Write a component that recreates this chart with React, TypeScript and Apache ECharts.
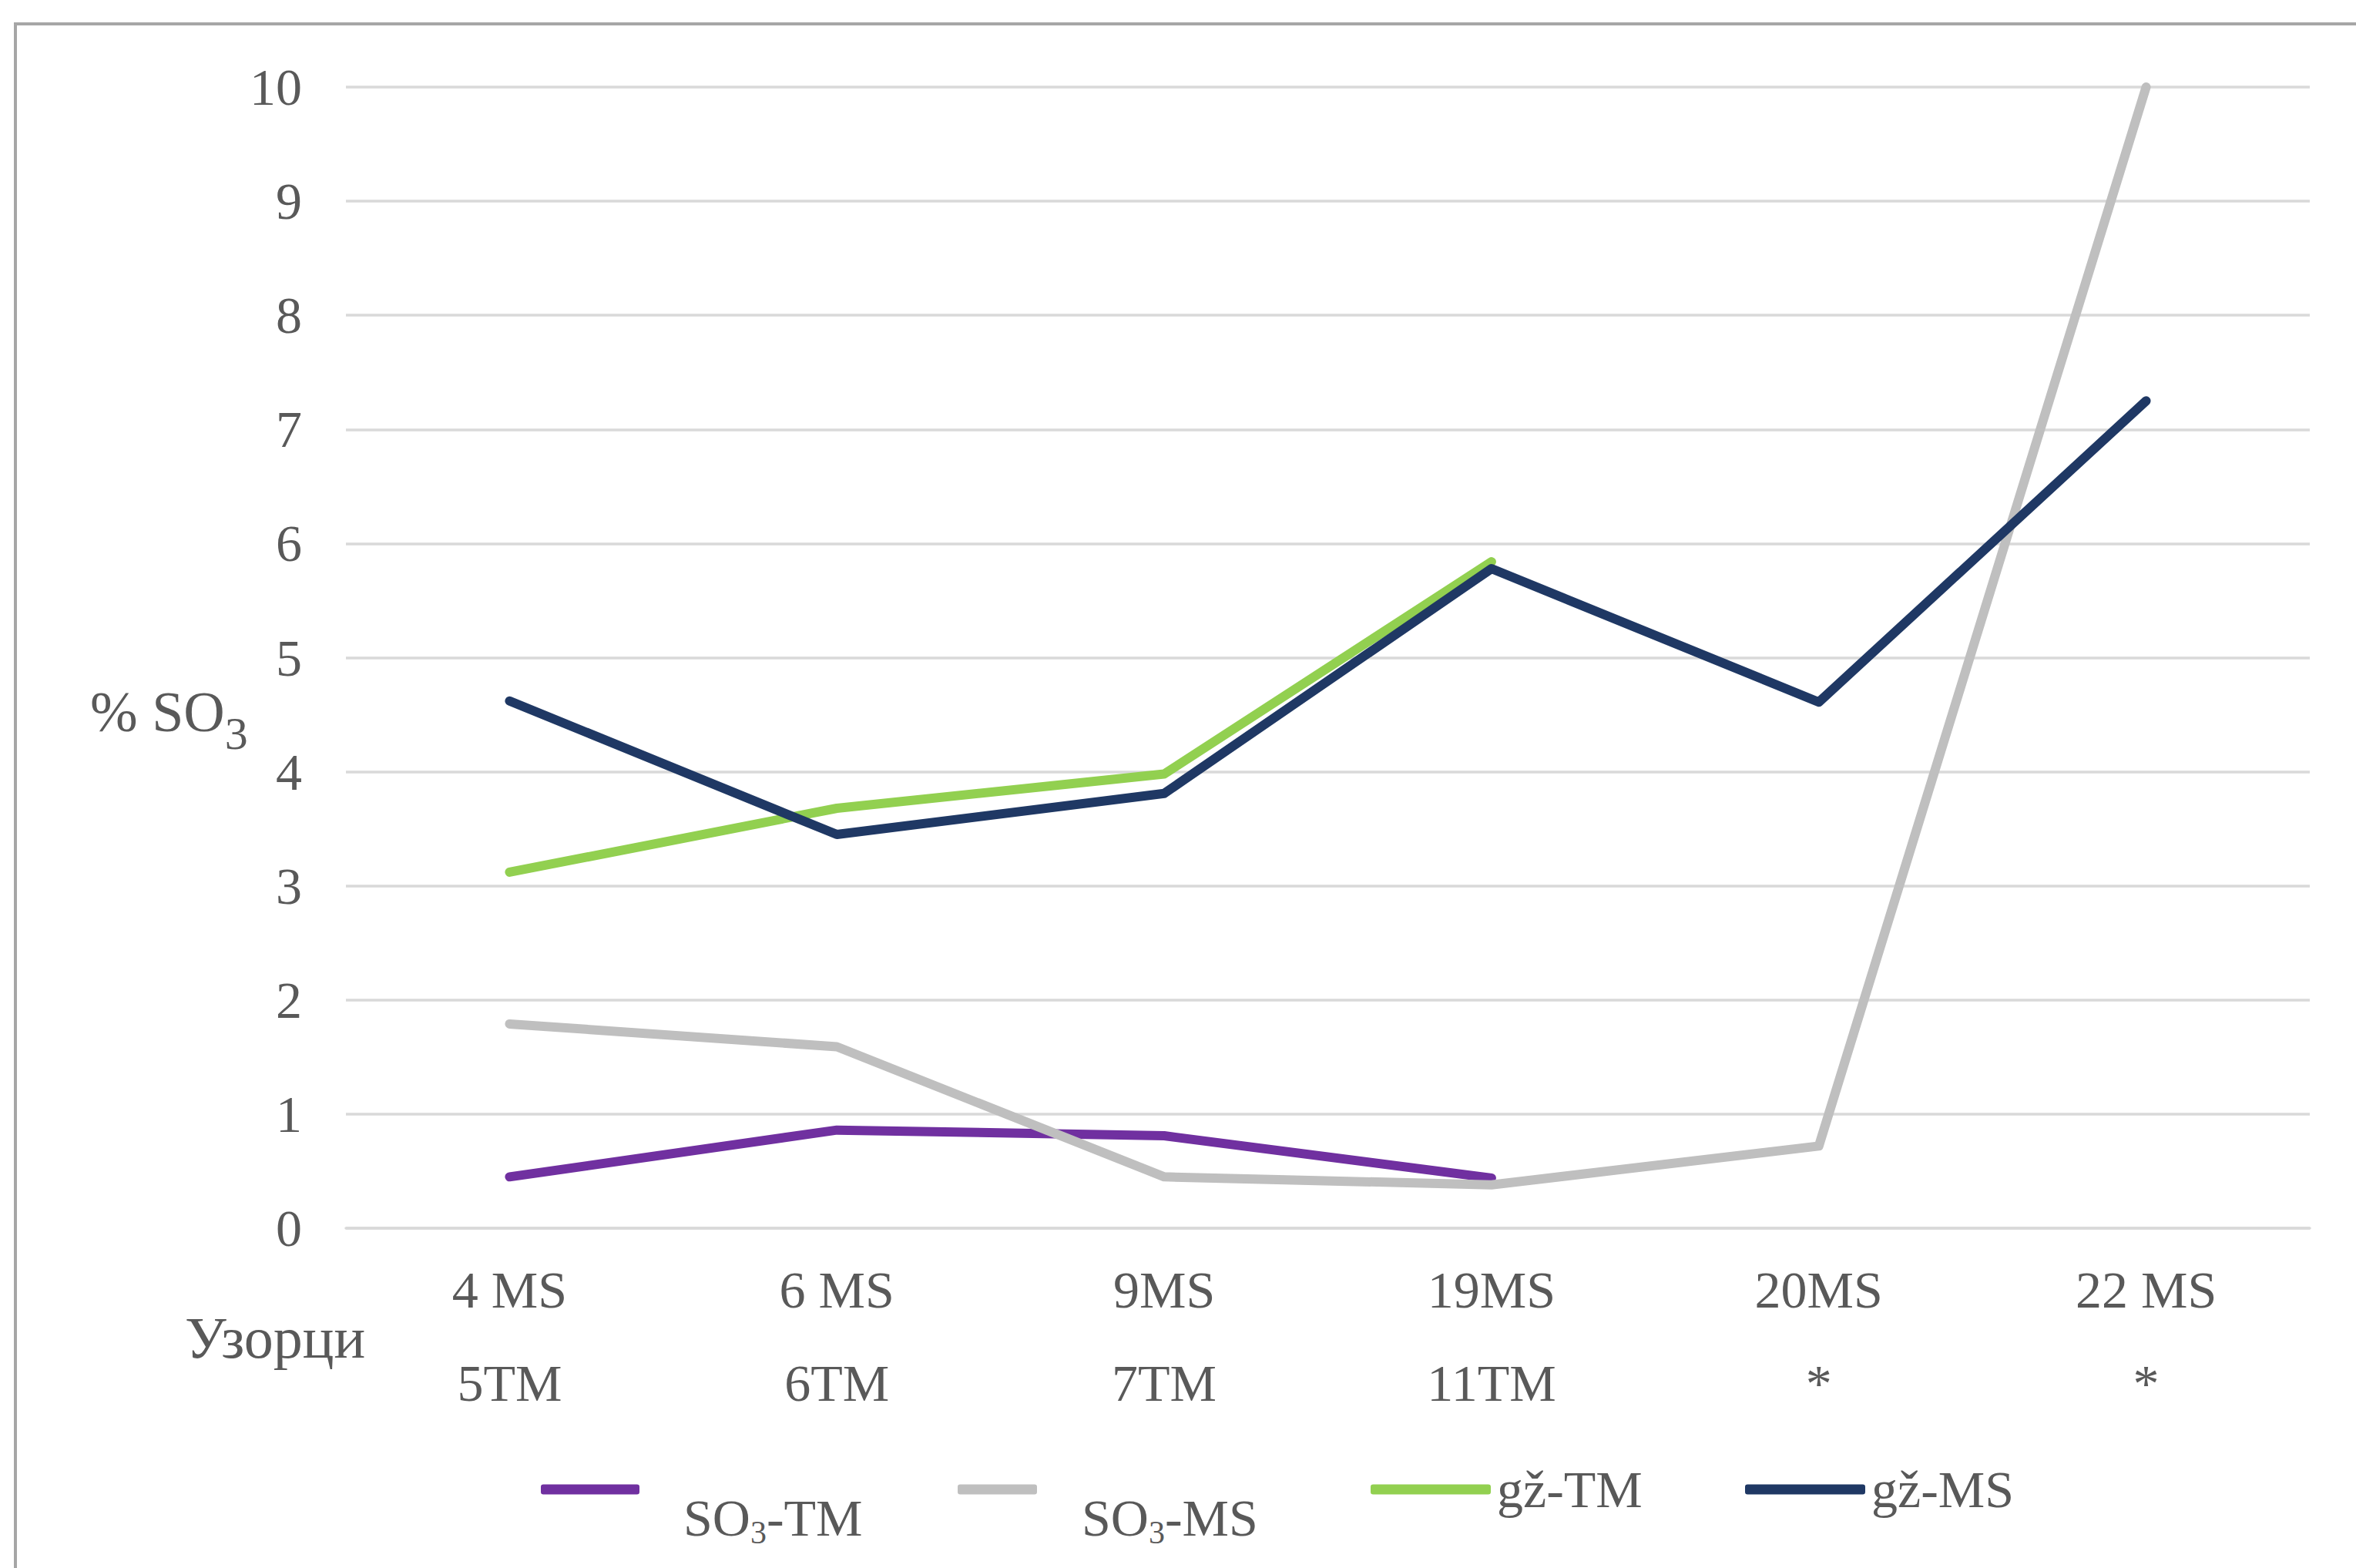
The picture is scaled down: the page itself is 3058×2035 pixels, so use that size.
import React, { useEffect, useRef } from 'react';
import * as echarts from 'echarts';

const categoriesMS = ['4 MS', '6 MS', '9MS', '19MS', '20MS', '22 MS'];
const categoriesTM = ['5TM', '6TM', '7TM', '11TM', '*', '*'];
const seriesNames = ['SO3-TM', 'SO3-MS', 'gž-TM', 'gž-MS'];
const so3TM = [0.45, 0.86, 0.81, 0.44];
const so3MS = [1.79, 1.59, 0.45, 0.38, 0.72, 10.0];
const gzTM = [3.12, 3.68, 3.98, 5.84];
const gzMS = [4.62, 3.45, 3.81, 5.78, 4.61, 7.25];
const yMin = 0;
const yMax = 10;
const yInterval = 1;
const colors = ['#7030A0', '#BFBFBF', '#92D050', '#1F3864'];
const seriesData = [so3TM, so3MS, gzTM, gzMS];

const FONT = '"Liberation Serif", "Times New Roman", serif';
const TEXT = '#595959';

const legendLayout = [
  { left: 702, top: 1856, w: 128, padLeft: 52, padTop: 74 },
  { left: 1243, top: 1856, w: 103, padLeft: 53, padTop: 74 },
  { left: 1779, top: 1893, w: 156, padLeft: 3, padTop: 0 },
  { left: 2265, top: 1893, w: 156, padLeft: 3, padTop: 0 },
];

export default function App() {
  const ref = useRef<HTMLDivElement>(null);
  useEffect(() => {
    document.body.style.margin = '0';
    if (!ref.current) return;
    const chart = echarts.init(ref.current, undefined, { renderer: 'svg' });
    const categories = categoriesMS.map((m, i) => m + '\n' + categoriesTM[i]);
    const option: any = {
      animation: false,
      backgroundColor: '#ffffff',
      textStyle: { fontFamily: FONT },
      grid: { left: 449, right: 60, top: 113, bottom: 441, containLabel: false },
      xAxis: {
        type: 'category',
        data: categories,
        boundaryGap: true,
        axisLine: { show: true, lineStyle: { color: '#D9D9D9', width: 3.5 } },
        axisTick: { show: false },
        axisLabel: {
          margin: 19,
          fontSize: 68,
          lineHeight: 121,
          color: TEXT,
          fontFamily: FONT,
          interval: 0,
        },
        splitLine: { show: false },
      },
      yAxis: {
        type: 'value',
        min: yMin,
        max: yMax,
        interval: yInterval,
        axisLine: { show: false },
        axisTick: { show: false },
        axisLabel: { margin: 57, fontSize: 68, color: TEXT, fontFamily: FONT },
        splitLine: { show: true, lineStyle: { color: '#D9D9D9', width: 3.5 } },
      },
      legend: seriesNames.map((name, i) => ({
        show: true,
        data: [name],
        left: legendLayout[i].left,
        top: legendLayout[i].top,
        padding: 0,
        itemGap: 0,
        itemWidth: legendLayout[i].w,
        itemHeight: 13,
        icon: 'roundRect',
        selectedMode: false,
        formatter: (n: string) =>
          n.startsWith('SO3') ? `{a|SO}{s|3}{a|${n.slice(3)}}` : n,
        textStyle: {
          fontSize: 68,
          lineHeight: 80,
          color: TEXT,
          fontFamily: FONT,
          padding: [legendLayout[i].padTop, 0, 0, legendLayout[i].padLeft],
          rich: {
            a: { fontSize: 68, lineHeight: 80, color: TEXT, fontFamily: FONT },
            s: {
              fontSize: 42,
              lineHeight: 42,
              verticalAlign: 'bottom',
              color: TEXT,
              fontFamily: FONT,
            },
          },
        },
      })),
      graphic: [
        {
          type: 'rect',
          silent: true,
          shape: { x: 20, y: 31, width: 3100, height: 2100 },
          style: { fill: 'none', stroke: '#A6A6A6', lineWidth: 4 },
          z: 100,
        },
        {
          type: 'text',
          silent: true,
          style: {
            x: 117,
            y: 866,
            verticalAlign: 'top',
            text: '{a|% SO}{s|3}',
            rich: {
              a: { fontSize: 74, lineHeight: 116, fill: TEXT, fontFamily: FONT },
              s: {
                fontSize: 60,
                lineHeight: 62,
                verticalAlign: 'bottom',
                fill: TEXT,
                fontFamily: FONT,
              },
            },
          },
        },
        {
          type: 'text',
          silent: true,
          style: {
            x: 240,
            y: 1736,
            verticalAlign: 'middle',
            text: 'Узорци',
            fontSize: 76,
            fill: TEXT,
            fontFamily: FONT,
          },
        },
      ],
      series: seriesNames.map((name, i) => ({
        name,
        type: 'line',
        data: seriesData[i],
        symbol: 'none',
        smooth: false,
        lineStyle: { color: colors[i], width: 12, cap: 'round', join: 'round' },
        itemStyle: { color: colors[i] },
        z: 2 + i,
      })),
    };
    chart.setOption(option);
    return () => chart.dispose();
  }, []);
  return (
    <div
      ref={ref}
      style={{ position: 'absolute', left: 0, top: 0, width: 3058, height: 2035 }}
    />
  );
}
